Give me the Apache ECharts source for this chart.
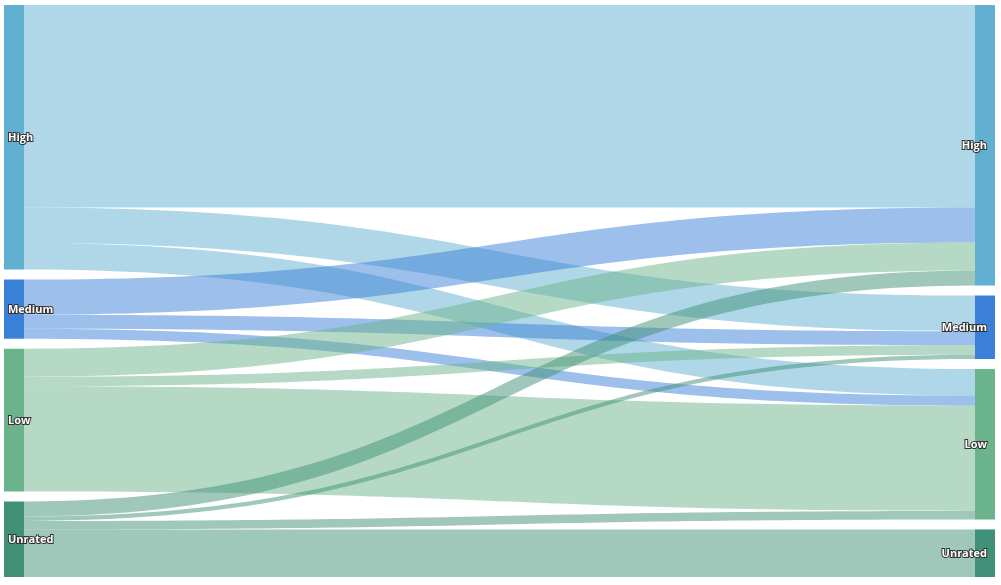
<!DOCTYPE html>
<html>
<head>
<meta charset="utf-8">
<script src="https://cdn.jsdelivr.net/npm/echarts@6/dist/echarts.min.js"></script>
<style>html,body{margin:0;padding:0;background:#fff;}#c{width:1001px;height:585px;}</style>
</head>
<body>
<div id="c"></div>
<script>
var categories = ['High', 'Medium', 'Low', 'Unrated'];
var colors = ['#62b0d1', '#3a80d8', '#6bb38b', '#409178'];
// flows from each source category (left) to target categories (right)
var fromHigh = [202, 35.5, 26.5, 0];
var fromMedium = [35, 14, 10, 0];
var fromLow = [28, 9.5, 105, 0];
var fromUnrated = [15, 4.3, 8.5, 47.5];
var flows = [fromHigh, fromMedium, fromLow, fromUnrated];

var nodes = [];
categories.forEach(function (c, i) {
  nodes.push({ name: 'L_' + c, itemStyle: { color: colors[i] },
    label: { position: 'insideLeft', distance: 4 } });
});
categories.forEach(function (c, i) {
  nodes.push({ name: 'R_' + c, itemStyle: { color: colors[i] },
    label: { position: 'insideRight', distance: 8 } });
});
var links = [];
flows.forEach(function (row, i) {
  row.forEach(function (v, j) {
    if (v > 0) links.push({ source: 'L_' + categories[i], target: 'R_' + categories[j], value: v });
  });
});

var chart = echarts.init(document.getElementById('c'), null, { renderer: 'canvas' });
chart.setOption({
  animation: false,
  series: [{
    type: 'sankey',
    left: 4, right: 6, top: 5, bottom: 8,
    nodeWidth: 20,
    nodeGap: 10,
    layoutIterations: 0,
    draggable: false,
    emphasis: { disabled: true },
    data: nodes,
    links: links,
    label: {
      color: '#fff',
      fontSize: 11,
      fontWeight: 'bold',
      fontFamily: 'Open Sans, sans-serif',
      textBorderColor: '#333',
      textBorderWidth: 2,
      offset: [0, 1],
      formatter: function (p) { return p.name.slice(2); }
    },
    itemStyle: { borderWidth: 0 },
    lineStyle: { color: 'source', opacity: 0.5, curveness: 0.5 }
  }]
});
</script>
</body>
</html>
